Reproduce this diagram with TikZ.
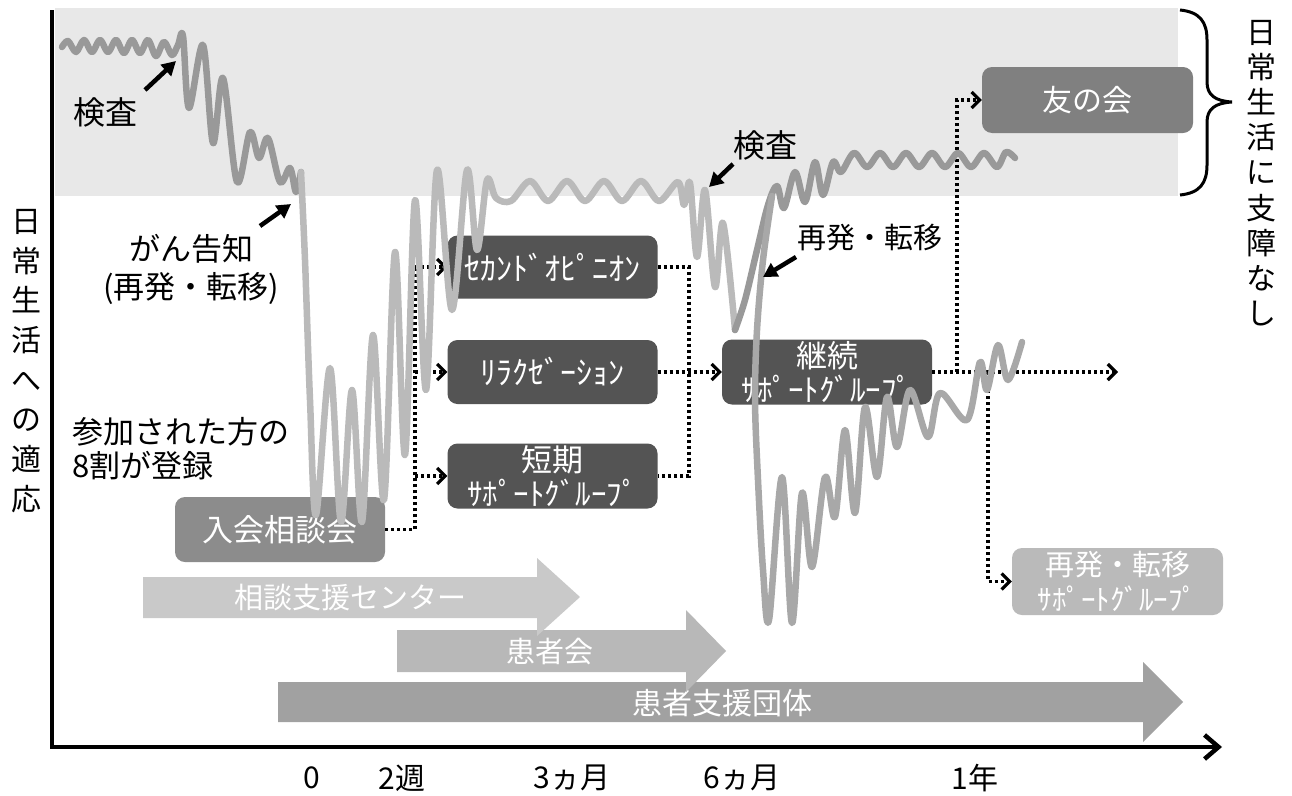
\documentclass[tikz,border=0pt]{standalone}
\usepackage{fontspec}
\setmainfont{Noto Sans CJK JP}
\usetikzlibrary{arrows.meta}
\newcommand{\myfs}[2]{\fontsize{#1}{#2}\selectfont}
\definecolor{bandgray}{gray}{0.91}
\definecolor{boxdark}{gray}{0.33}
\definecolor{boxmid}{gray}{0.55}
\definecolor{boxtomo}{gray}{0.5}
\definecolor{boxlight}{gray}{0.73}
\definecolor{arrA}{gray}{0.79}
\definecolor{arrB}{gray}{0.72}
\definecolor{arrC}{gray}{0.63}
\definecolor{curvedark}{gray}{0.6}
\definecolor{curvelight}{gray}{0.73}
\definecolor{curvemid}{gray}{0.66}
\begin{document}
\begin{tikzpicture}[x=1pt,y=-1pt,
  box/.style={rounded corners=10pt, minimum width=210pt, minimum height=65pt, text=white, align=center, inner sep=0pt, font=\myfs{31}{34}},
  dotline/.style={line width=3.2pt, dash pattern=on 3.2pt off 2.8pt},
  dotarr/.style={dotline, -{Straight Barb[length=8pt,width=16pt]}},
  blk/.style={line width=4.5pt, -{Triangle[length=14pt,width=15pt]}},
  curve/.style={line width=6.5pt, line cap=round, line join=round},
  lbl/.style={text=black, inner sep=0pt, font=\myfs{31}{34}},
  bigtxt/.style={text=white, inner sep=0pt, font=\myfs{29}{32}},
  ticklbl/.style={text=black, inner sep=0pt, font=\myfs{30}{32}}
]
\useasboundingbox (0,0) rectangle (1292,795);
\fill[white] (0,0) rectangle (1292,795);

% background band
\fill[bandgray] (55,8) rectangle (1178,196);

% axes
\coordinate (ytop) at (52,10);
\coordinate (origin) at (52,747);
\coordinate (xend) at (1222,747);
\draw[line width=4.5pt, line join=miter, -{Straight Barb[length=14pt,width=24pt]}] (ytop) -- (origin) -- (xend);

% brace
\draw[line width=3pt] (1180,10) .. controls (1200,12) and (1207,22) .. (1207,40) -- (1207,82) .. controls (1207,95) and (1215,101) .. (1232,102) .. controls (1215,103) and (1207,109) .. (1207,122) -- (1207,165) .. controls (1207,183) and (1200,193) .. (1180,195);

% vertical labels
\node[align=center, inner sep=0pt, font=\myfs{30}{39.7}] (ylab) at (27,361) {日\\常\\生\\活\\へ\\の\\適\\応};
\node[align=center, inner sep=0pt, font=\myfs{30}{35.2}] (rlab) at (1261,173) {日\\常\\生\\活\\に\\支\\障\\な\\し};

% big block arrows
\fill[arrC] (278,682) -- (1143,682) -- (1143,662) -- (1183,702) -- (1143,742) -- (1143,722) -- (278,722) -- cycle;
\node[bigtxt, font=\myfs{30}{32}] (tdantai) at (722,703) {患者支援団体};
\fill[arrB] (397,630) -- (686,630) -- (686,610) -- (726,651) -- (686,692) -- (686,672) -- (397,672) -- cycle;
\node[bigtxt] (tkanja) at (550,652) {患者会};
\fill[arrA] (143,577) -- (537,577) -- (537,558) -- (580,597) -- (537,636) -- (537,618) -- (143,618) -- cycle;
\node[bigtxt] (tsodan) at (350,598) {相談支援センター};

% boxes
\node[box, fill=boxmid] (nyukai) at (280,529.5) {入会相談会};
\node[box, fill=boxdark, minimum height=63pt, font=\myfs{32}{34}] (second) at (552.5,267) {ｾｶﾝﾄﾞｵﾋﾟﾆｵﾝ};
\node[box, fill=boxdark, minimum height=64pt, font=\myfs{32}{34}] (relax) at (552.5,372) {ﾘﾗｸｾﾞｰｼｮﾝ};
\node[box, fill=boxdark] (tanki) at (552.5,476) {短期\\ｻﾎﾟｰﾄｸﾞﾙｰﾌﾟ};
\node[box, fill=boxdark] (keizoku) at (827,372) {継続\\ｻﾎﾟｰﾄｸﾞﾙｰﾌﾟ};
\node[box, fill=boxtomo, minimum width=211pt, minimum height=66pt, font=\myfs{30}{34}] (tomo) at (1087.5,100) {友の会};
\node[box, fill=boxlight, minimum width=211pt, minimum height=67pt, font=\myfs{29}{35}] (saihatsu) at (1117.5,581.5) {再発・転移\\ｻﾎﾟｰﾄｸﾞﾙｰﾌﾟ};

% dotted connectors
\coordinate (jL) at (415,0);
\coordinate (jR) at (689,0);
\coordinate (jT) at (957,0);
\coordinate (jB) at (988,0);
\coordinate (endR) at (1118,372);
\draw[dotline] (nyukai.east) -- (nyukai.east -| jL) -- (jL |- second.west);
\draw[dotarr] (jL |- second.west) -- (second.west);
\draw[dotarr] (jL |- relax.west) -- (relax.west);
\draw[dotarr] (jL |- tanki.west) -- (tanki.west);
\draw[dotline] (second.east) -- (second.east -| jR) -- (tanki.east -| jR) -- (tanki.east);
\draw[dotarr] (relax.east) -- (keizoku.west);
\draw[dotarr] (keizoku.east) -- (endR);
\draw[dotarr] (keizoku.east -| jT) -- (jT |- tomo.west) -- (tomo.west);
\draw[dotarr] (keizoku.east -| jB) -- (jB |- saihatsu.west) -- (saihatsu.west);

% adaptation curves
\draw[curve, curvedark] plot[smooth, tension=0.55] coordinates {
 (62,47) (68,41) (76,52) (84,40) (92,52) (100,40) (108,52) (116,40) (124,53) (132,40) (140,53) (148,40) (156,56) (164,42) (172,55) (178,45) (183,36) (189,108) (203,45) (213,143) (223,78) (237,182) (250,132) (259,158) (268,138) (280,182) (290,168) (296,192) (301,172)};
\draw[curve, curvelight] plot[smooth, tension=0.55] coordinates {
 (301,172) (305,260) (310,400) (316,515) (330,368) (341,522) (352,390) (362,522) (373,335) (384,500) (395,252) (405,455) (415,200) (426,390) (437,170) (452,310) (467,170) (477,250) (487,180) (496,198) (511,201) (530,181) (548,201) (567,181) (585,201) (604,181) (622,201) (641,181) (659,201) (678,182) (684,205) (690,183) (697,257) (705,190) (715,287) (723,223) (735,330)};
\draw[curve, curvedark] plot[smooth, tension=0.55] coordinates {
 (735,330) (745,300) (757,250) (768,205) (777,186) (784,208) (795,172) (805,202) (815,162) (823,195) (833,162) (841,172) (854,153) (867,167) (880,153) (893,167) (906,153) (919,167) (932,153) (945,167) (958,153) (971,167) (984,153) (997,167) (1006,152) (1015,158)};
\draw[curve, curvemid] plot[smooth, tension=0.55] coordinates {
 (772,196) (763,260) (757,330) (755,400) (758,480) (763,570) (769,620) (782,477) (792,623) (802,493) (812,567) (825,477) (835,517) (845,430) (855,513) (865,407) (877,477) (887,397) (897,447) (910,390) (928,437) (940,393) (967,420) (980,362) (987,390) (998,345) (1008,380) (1022,342)};

% labels and pointer arrows
\node[lbl, font=\myfs{32}{34}] (kensa1) at (105,112) {検査};
\coordinate (k1t) at (145,90); \coordinate (k1h) at (176,61);
\draw[blk] (k1t) -- (k1h);
\node[lbl, align=center, font=\myfs{31}{38}] (gan) at (191,269) {がん告知\\(再発・転移)};
\coordinate (g1t) at (260,226); \coordinate (g1h) at (291,204);
\draw[blk] (g1t) -- (g1h);
\node[lbl, align=left, anchor=west] (sanka) at (72,449) {参加された方の\\8割が登録};
\node[lbl, font=\myfs{32}{34}] (kensa2) at (765,145) {検査};
\coordinate (k2t) at (733,164); \coordinate (k2h) at (709,187);
\draw[blk] (k2t) -- (k2h);
\node[lbl, font=\myfs{29}{32}] (saiten) at (870,238) {再発・転移};
\coordinate (s1t) at (796,257); \coordinate (s1h) at (763,277);
\draw[blk] (s1t) -- (s1h);

% time axis labels
\node[ticklbl] (t0) at (312,778) {0};
\node[ticklbl] (t2w) at (402,778) {2週};
\node[ticklbl] (t3m) at (572,778) {3ヵ月};
\node[ticklbl] (t6m) at (742,778) {6ヵ月};
\node[ticklbl] (t1y) at (975,778) {1年};
\end{tikzpicture}
\end{document}
